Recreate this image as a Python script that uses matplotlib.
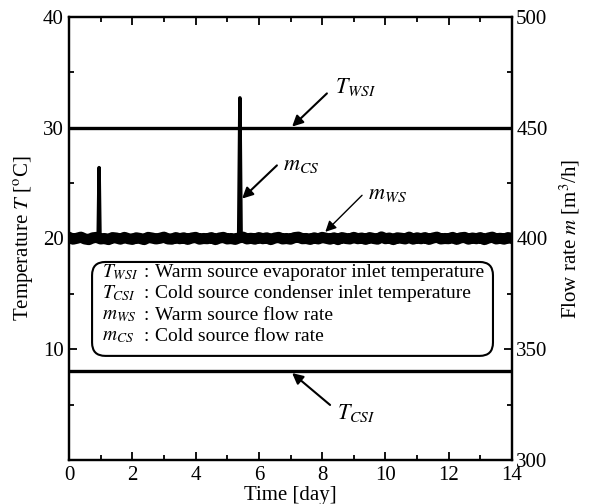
import matplotlib
matplotlib.use("Agg")
import matplotlib.pyplot as plt
import numpy as np
from matplotlib.patches import FancyBboxPatch
from matplotlib.ticker import MultipleLocator

plt.rcParams['font.family'] = ['Liberation Serif', 'DejaVu Serif']
plt.rcParams['mathtext.fontset'] = 'stix'

# inlet temperatures [degC]
T_wsi = 30.0
T_csi = 8.0

# warm source flow rate [m3/h], sampled every 0.125 day
m_ws = [400.5, 399.7, 400.1, 400.6, 399.8, 399.5, 400.3, 400.5, 399.8, 400.0,
        399.5, 400.4, 400.2, 399.7, 400.5, 399.9, 399.6, 400.3, 400.0, 399.5,
        400.5, 400.2, 399.8, 400.1, 400.6, 399.8, 399.7, 400.4, 399.9, 400.3,
        399.6, 400.2, 400.5, 399.7, 400.0, 399.9, 400.4, 399.5, 400.2, 400.5,
        399.8, 400.0, 399.6, 400.3, 400.6, 399.8, 400.1, 399.7, 400.4, 399.9,
        400.3, 399.5, 400.2, 400.5, 399.8, 400.0, 399.7, 400.4, 400.6, 399.9,
        400.0, 399.6, 400.3, 399.8, 400.5, 400.1, 399.7, 400.3, 399.5, 400.4,
        400.0, 399.8, 400.5, 399.9, 400.2, 399.6, 400.4, 400.0, 399.7, 400.7,
        399.9, 400.2, 399.5, 400.3, 400.1, 399.8, 400.6, 399.7, 400.3, 399.9,
        400.4, 399.6, 400.2, 400.6, 399.8, 400.0, 399.9, 400.5, 399.6, 400.3,
        400.5, 399.7, 400.2, 399.9, 400.4, 399.5, 400.2, 400.6, 399.8, 400.1,
        399.7, 400.4, 400.0]

# cold source flow rate [m3/h], two short peaks
t_cs = [0.0, 0.4, 0.8, 0.92, 0.95, 0.98, 1.2, 1.6, 2.0, 2.5, 3.0, 3.5, 4.0,
        4.5, 5.0, 5.36, 5.40, 5.44, 5.8, 6.3, 6.8, 7.3, 7.8, 8.3, 8.8, 9.3,
        9.8, 10.3, 10.8, 11.3, 11.8, 12.3, 12.8, 13.3, 13.7, 14.0]
m_cs = [398.9, 401.2, 399.0, 400.0, 432.0, 400.0, 401.3, 398.8, 401.0, 399.1,
        401.2, 398.9, 401.1, 399.0, 401.3, 400.0, 463.5, 400.0, 398.8, 401.2,
        399.0, 401.1, 398.9, 401.3, 399.1, 401.0, 398.8, 401.2, 399.0, 401.1,
        398.9, 401.4, 398.8, 401.0, 399.1, 400.6]

legend_sym = [r'$T_{WSI}$', r'$T_{CSI}$', r'$m_{WS}$', r'$m_{CS}$']
legend_txt = ['Warm source evaporator inlet temperature',
              'Cold source condenser inlet temperature',
              'Warm source flow rate',
              'Cold source flow rate']

fig = plt.figure(figsize=(5.92, 5.04), dpi=100)
ax = fig.add_axes([0.1166, 0.0873, 0.7483, 0.879])
ax2 = ax.twinx()

ax.plot([0, 14], [T_wsi, T_wsi], color='black', lw=2.4)
ax.plot([0, 14], [T_csi, T_csi], color='black', lw=2.4)

t_ws = np.linspace(0, 14, len(m_ws))
ax2.plot(t_ws, m_ws, color='black', lw=8)
ax2.plot(t_cs, m_cs, color='black', lw=2.5)

ax.set_xlim(0, 14)
ax.set_ylim(0, 40)
ax2.set_ylim(300, 500)

ax.xaxis.set_major_locator(MultipleLocator(2))
ax.xaxis.set_minor_locator(MultipleLocator(1))
ax.yaxis.set_major_locator(MultipleLocator(10))
ax.yaxis.set_minor_locator(MultipleLocator(5))
ax2.yaxis.set_major_locator(MultipleLocator(50))
ax2.yaxis.set_minor_locator(MultipleLocator(25))

ax.set_yticks([10, 20, 30, 40])
ax.tick_params(which='both', direction='in', top=True, labelsize=15, width=1.3, pad=4)
ax.tick_params(which='major', length=6)
ax.tick_params(which='minor', length=3.5)
ax2.tick_params(which='both', direction='in', labelsize=15, width=1.3, pad=3)
ax2.tick_params(which='major', length=6)
ax2.tick_params(which='minor', length=3.5)

for a in (ax, ax2):
    for s in a.spines.values():
        s.set_linewidth(1.6)

ax.set_xlabel('Time [day]', fontsize=15, labelpad=1)
ax.set_ylabel(r'Temperature $T$ [$^{\rm o}$C]', fontsize=15, labelpad=5)
ax2.set_ylabel(r'Flow rate $m$ [m$^3$/h]', fontsize=15, labelpad=7)

# arrows and their labels
arrow = dict(arrowstyle='-|>', color='black', lw=1.5, mutation_scale=16,
             shrinkA=0, shrinkB=0)
notes = [(r'$T_{WSI}$', (7.05, 30.1), (8.15, 33.1), (8.42, 33.7), 1.5),
         (r'$m_{CS}$', (5.47, 23.6), (6.57, 26.6), (6.76, 26.6), 1.5),
         (r'$m_{WS}$', (8.1, 20.6), (9.26, 23.9), (9.45, 24.0), 1.0),
         (r'$T_{CSI}$', (7.05, 7.85), (8.25, 4.97), (8.47, 4.2), 1.5)]
for label, tip, tail, pos, w in notes:
    ax.annotate('', xy=tip, xytext=tail, arrowprops=dict(arrow, lw=w))
    ax.text(pos[0], pos[1], label, fontsize=16, va='center', ha='left')

# description box
box = FancyBboxPatch((0.052, 0.235), 0.905, 0.212, transform=ax.transAxes,
                     boxstyle='round,pad=0,rounding_size=0.03',
                     facecolor='white', edgecolor='black', lw=1.5, zorder=5)
ax2.add_patch(box)
rows_y = [0.424, 0.376, 0.327, 0.278]
for sym, txt, y in zip(legend_sym, legend_txt, rows_y):
    ax2.text(0.075, y, sym, transform=ax.transAxes, fontsize=14, va='center', zorder=6)
    ax2.text(0.167, y, ':', transform=ax.transAxes, fontsize=14, va='center', zorder=6)
    ax2.text(0.194, y, txt, transform=ax.transAxes, fontsize=14, va='center', zorder=6)

fig.savefig('out.png', dpi=100)
